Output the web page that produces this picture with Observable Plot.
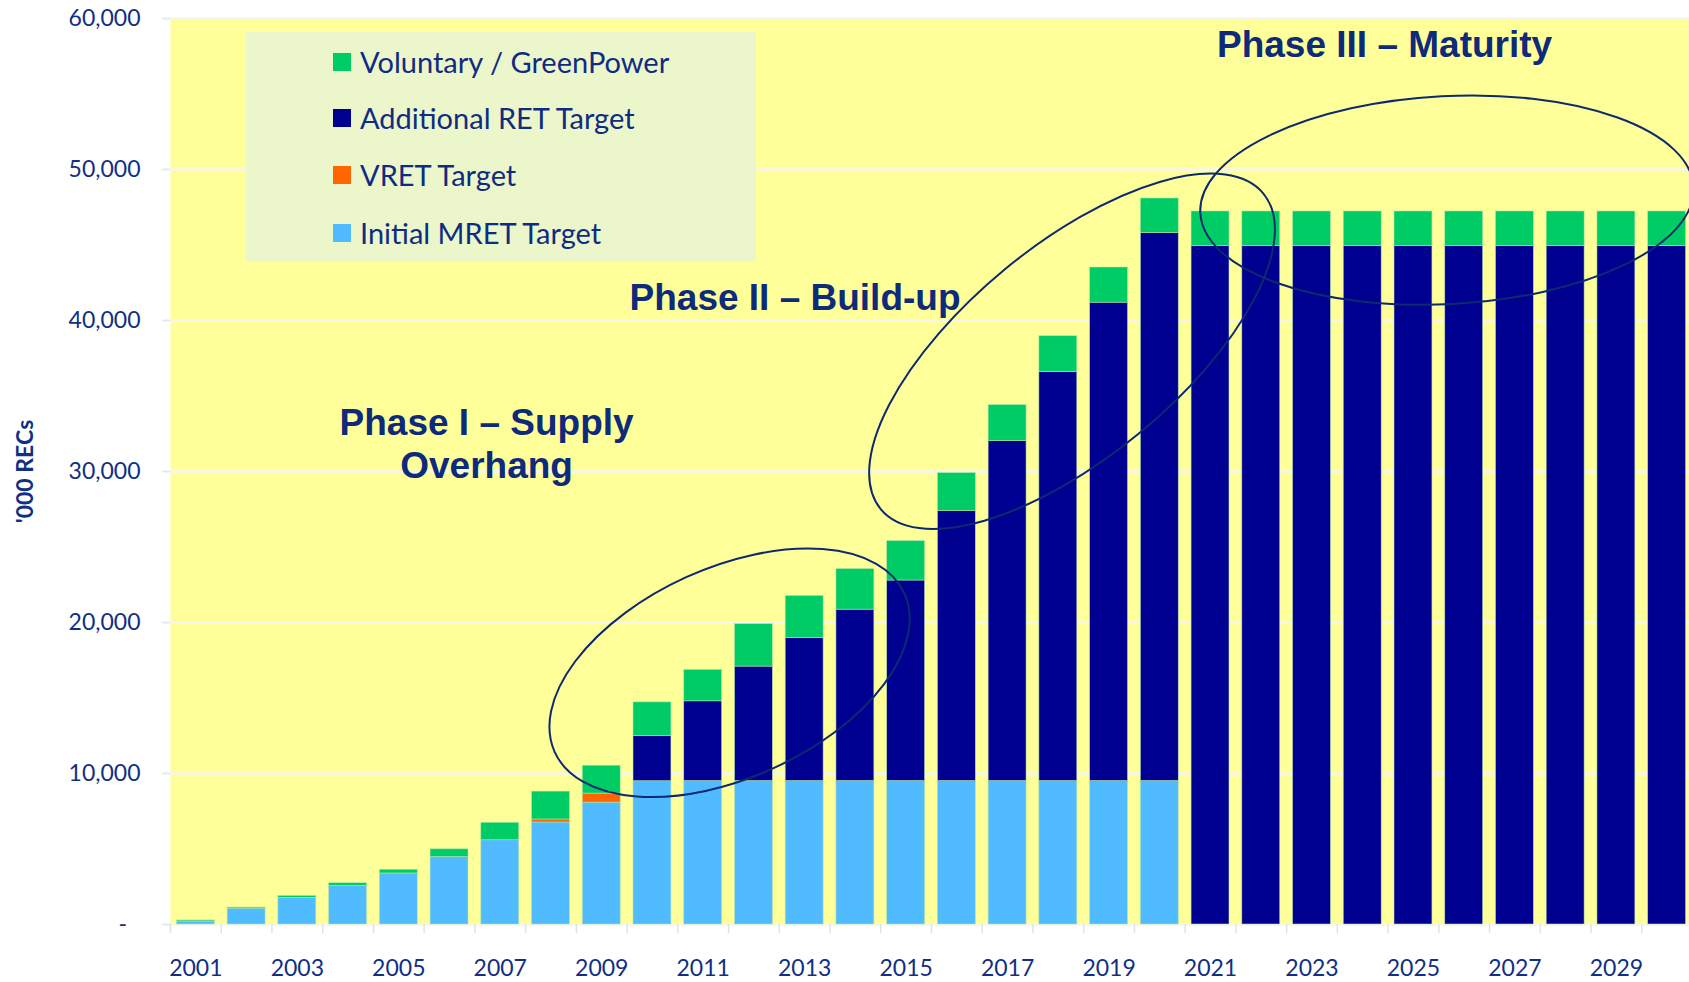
<!DOCTYPE html>
<html>
<head>
<meta charset="utf-8">
<script src="https://cdn.jsdelivr.net/npm/d3@7"></script>
<script src="https://cdn.jsdelivr.net/npm/@observablehq/plot@0.6"></script>
<style>
  html, body { margin: 0; padding: 0; background: #ffffff; overflow: hidden; }
  #wrap { position: relative; width: 1689px; height: 982px; overflow: hidden; }
  #wrap svg { position: absolute; left: 0; top: 0; max-width: none !important; width: 1700px !important; height: 982px !important; }
  #legend { position: absolute; left: 246px; top: 32px; width: 510px; height: 229px; background: #ECF6CB;
            font-family: Lato, "Open Sans", sans-serif; font-size: 29px; color: #0F2C82; }
  #legend .row { position: absolute; left: 87px; height: 40px; line-height: 40px; white-space: nowrap; }
  #legend .sw { position: absolute; left: 0; top: 11px; width: 18px; height: 18px; }
  #legend .lb { position: absolute; left: 27px; top: 0; }
  g[aria-label="y-axis label"] text { font-weight: bold; font-size: 23px; }
</style>
</head>
<body>
<div id="wrap"></div>
<script>
// ---- categories ----
const years = [2001, 2002, 2003, 2004, 2005, 2006, 2007, 2008, 2009, 2010,
               2011, 2012, 2013, 2014, 2015, 2016, 2017, 2018, 2019, 2020,
               2021, 2022, 2023, 2024, 2025, 2026, 2027, 2028, 2029, 2030];
const labelYears = [2001, 2003, 2005, 2007, 2009, 2011, 2013, 2015, 2017, 2019, 2021, 2023, 2025, 2027, 2029];
const yTicks = [0, 10000, 20000, 30000, 40000, 50000, 60000];

// ---- series values ('000 RECs) ----
const initialMRET = [200, 1050, 1760, 2555, 3380, 4470, 5580, 6755, 8070, 9490,
                     9500, 9500, 9500, 9500, 9500, 9500, 9500, 9500, 9500, 9500,
                     0, 0, 0, 0, 0, 0, 0, 0, 0, 0];
const vretTarget = [0, 0, 0, 0, 0, 0, 0, 200, 600, 0,
                    0, 0, 0, 0, 0, 0, 0, 0, 0, 0,
                    0, 0, 0, 0, 0, 0, 0, 0, 0, 0];
const additionalRET = [0, 0, 0, 0, 0, 0, 0, 0, 0, 3000,
                       5280, 7580, 9475, 11350, 13280, 17890, 22510, 27090, 31680, 36300,
                       44940, 44940, 44940, 44940, 44940, 44940, 44940, 44940, 44940, 44940];
const voluntary = [70, 70, 130, 180, 245, 510, 1155, 1845, 1845, 2220,
                   2080, 2810, 2785, 2690, 2610, 2505, 2390, 2370, 2330, 2280,
                   2280, 2280, 2280, 2280, 2280, 2280, 2280, 2280, 2280, 2280];

// ---- series names / colours (bottom to top) ----
const seriesNames = ["Initial MRET Target", "VRET Target", "Additional RET Target", "Voluntary / GreenPower"];
const seriesColors = ["#50BBFF", "#FF6600", "#000090", "#00CC66"];
const seriesValues = [initialMRET, vretTarget, additionalRET, voluntary];

// ---- annotations ----
const phaseLabels = [
  {label: "Phase I – Supply\nOverhang", year: 2006.73, value: 31900},
  {label: "Phase II – Build-up", year: 2012.81, value: 41600},
  {label: "Phase III – Maturity", year: 2024.43, value: 58360}
];
const phaseEllipses = [
  {year: 2011.53, value: 16636, rx: 192, ry: 105, angle: -24.4},
  {year: 2018.28, value: 37927, rx: 248, ry: 106, angle: -39.5},
  {year: 2025.67, value: 47940, rx: 247, ry: 104, angle: -3}
];

// ---- build stacked table ----
const rows = [];
years.forEach((yr, i) => {
  let acc = 0;
  seriesNames.forEach((name, s) => {
    const v = seriesValues[s][i];
    if (v > 0) rows.push({year: yr, series: name, y1: acc, y2: acc + v});
    acc += v;
  });
});
const boundaries = years.map(y => y - 0.5).concat([years[years.length - 1] + 0.5]);

const textColor = "#112F84";

const chart = Plot.plot({
  width: 1700,
  height: 982,
  marginLeft: 170,
  marginRight: 8,
  marginTop: 18,
  marginBottom: 58,
  style: {fontFamily: "Lato, 'Open Sans', sans-serif", fontSize: "23px", color: textColor, background: "transparent", overflow: "visible", maxWidth: "none"},
  x: {type: "linear", domain: [years[0] - 0.5, years[years.length - 1] + 0.5], label: null},
  y: {domain: [0, 60000], label: null},
  color: {domain: seriesNames, range: seriesColors},
  marks: [
    Plot.frame({fill: "#FFFF99", stroke: "none"}),
    Plot.gridY({ticks: yTicks, stroke: "#F6F6EE", strokeOpacity: 1, strokeWidth: 2.5}),
    Plot.axisY({
      ticks: yTicks, tickSize: 8, tickPadding: 22, stroke: "#E8E8E8", strokeWidth: 2,
      tickFormat: d => d === 0 ? "-\u2007" : d3.format(",")(d),
      label: "'000 RECs", labelAnchor: "center", labelArrow: "none", labelOffset: 154
    }),
    Plot.axisX({ticks: boundaries, tickSize: 9, stroke: "#E2E2E2", strokeWidth: 1.5, tickFormat: () => "", label: null}),
    Plot.axisX({ticks: labelYears, tickSize: 0, tickPadding: 35, tickFormat: d => String(d), label: null}),
    Plot.rect(rows, {
      x1: d => d.year - 0.5, x2: d => d.year + 0.5, y1: "y1", y2: "y2",
      fill: "series", insetLeft: 6.4, insetRight: 6.4,
      stroke: "#B4E6AE", strokeWidth: 0.7, strokeOpacity: 0.8
    }),
    Plot.text(phaseLabels, {
      x: "year", y: "value", text: "label",
      fontFamily: "'Liberation Sans', Arial, sans-serif", fontWeight: "bold", fontSize: 37,
      fill: "#0E2A7A", lineHeight: 1.16
    }),
    (index, scales) => {
      const g = d3.create("svg:g").attr("aria-label", "phase ellipses");
      for (const e of phaseEllipses) {
        g.append("ellipse")
          .attr("transform", `translate(${scales.x(e.year)},${scales.y(e.value)}) rotate(${e.angle})`)
          .attr("rx", e.rx).attr("ry", e.ry)
          .attr("fill", "none").attr("stroke", "#0B2A70").attr("stroke-width", 2);
      }
      return g.node();
    }
  ]
});

const wrap = document.getElementById("wrap");
wrap.appendChild(chart);

// ---- legend (top to bottom is reverse of stack order) ----
const legend = document.createElement("div");
legend.id = "legend";
const rowCenters = [30, 86, 143, 201];
seriesNames.slice().reverse().forEach((name, i) => {
  const color = seriesColors[seriesNames.indexOf(name)];
  const row = document.createElement("div");
  row.className = "row";
  row.style.top = (rowCenters[i] - 20) + "px";
  row.innerHTML = `<span class="sw" style="background:${color}"></span><span class="lb">${name}</span>`;
  legend.appendChild(row);
});
wrap.appendChild(legend);
</script>
</body>
</html>
